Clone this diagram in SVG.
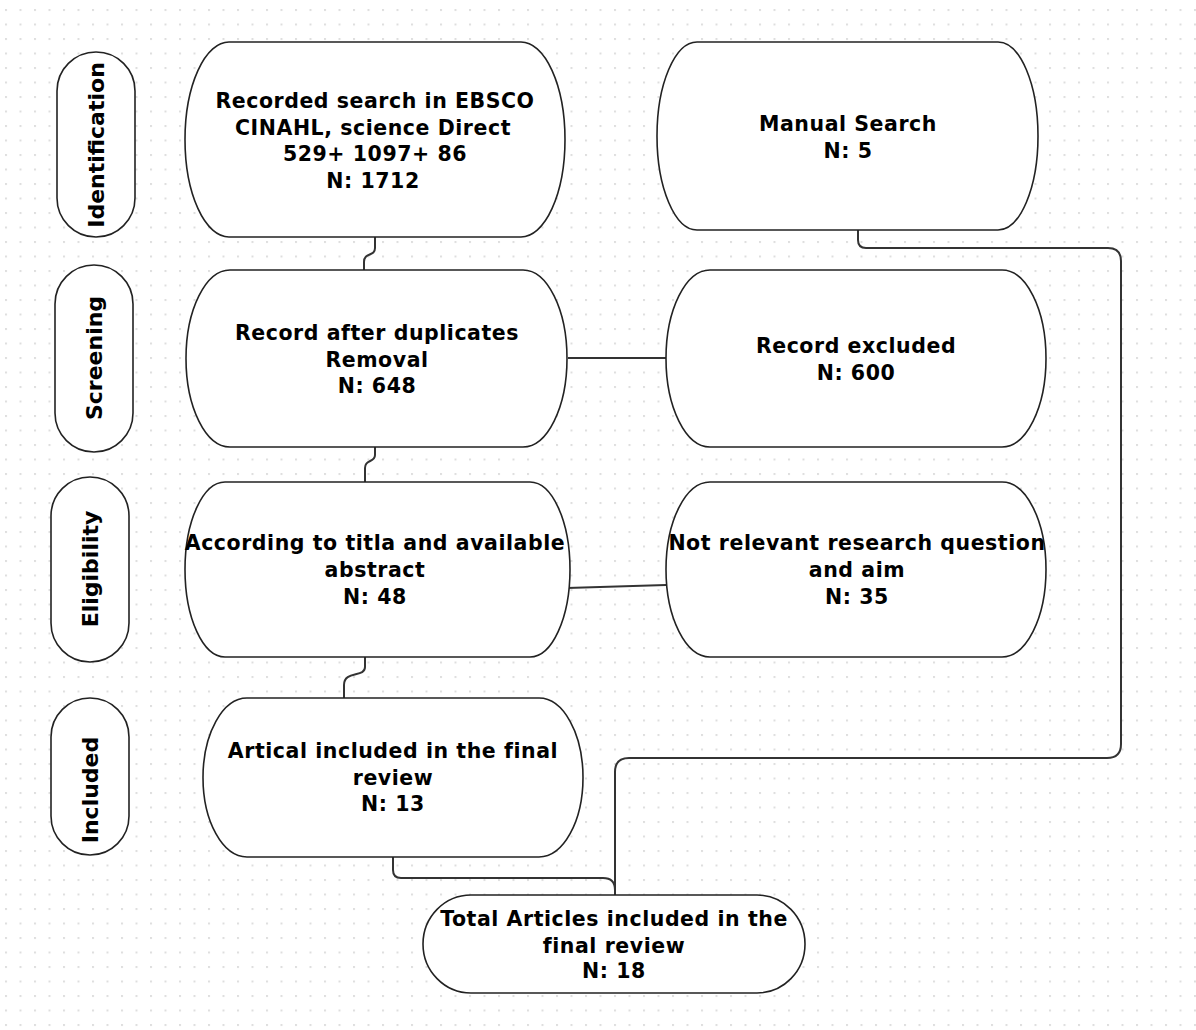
<svg xmlns="http://www.w3.org/2000/svg" width="1196" height="1030" viewBox="0 0 1196 1030">
<defs>
<pattern id="dots" x="5" y="9" width="14.5" height="14.5" patternUnits="userSpaceOnUse"><rect x="0" y="0" width="2" height="2" fill="#dedede"/></pattern>
<style>
.box{fill:#fff;stroke:#222;stroke-width:1.6}
.t{font-family:"DejaVu Sans","Liberation Sans",sans-serif;font-weight:bold;font-size:20.5px;letter-spacing:0.55px;fill:#000;text-anchor:middle}
.side{font-family:"DejaVu Sans","Liberation Sans",sans-serif;font-weight:bold;font-size:22px;fill:#000;text-anchor:middle}
.c{fill:none;stroke:#333;stroke-width:2}
</style>
</defs>
<rect width="1196" height="1030" fill="#fff"/>
<rect width="1196" height="1030" fill="url(#dots)"/>
<g id="connectors">
<path class="c" d="M375,237 L375,248 C375,257 364,252 364,262 L364,270"/>
<path class="c" d="M375,447 L375,455 C375,463 365,459 365,468 L365,482"/>
<path class="c" d="M365,657 L365,667 C365,678 344,670 344,685 L344,698"/>
<path class="c" d="M568,358 L666,358"/>
<path class="c" d="M567,588 L666,585"/>
<path class="c" d="M858,230 V240 Q858,248 866,248 H1108 Q1121,248 1121,261 V744 Q1121,758 1107,758 H629 Q615,758 615,772 V895"/>
<path class="c" d="M393,857 V870 Q393,878 401,878 H603 Q615,878 615,890 V895"/>
</g>
<g id="side-identification"><rect class="box" x="57" y="52" width="78" height="185" rx="39" ry="39"/><text class="side" transform="translate(104,145) rotate(-90)">Identification</text></g>
<g id="side-screening"><rect class="box" x="55" y="265" width="78" height="187" rx="39" ry="39"/><text class="side" transform="translate(102,358) rotate(-90)">Screening</text></g>
<g id="side-eligibility"><rect class="box" x="51" y="477" width="78" height="185" rx="39" ry="39"/><text class="side" transform="translate(98,569) rotate(-90)">Eligibility</text></g>
<g id="side-included"><rect class="box" x="51" y="698" width="78" height="157" rx="39" ry="39"/><text class="side" transform="translate(98,790) rotate(-90)">Included</text></g>
<g id="n-recorded"><rect class="box" x="185" y="42" width="380" height="195" rx="44" ry="97.5"/>
<text class="t" x="375" y="108">Recorded search in EBSCO</text>
<text class="t" x="373" y="135">CINAHL, science Direct</text>
<text class="t" x="375" y="161">529+ 1097+ 86</text>
<text class="t" x="373" y="188">N: 1712</text></g>
<g id="n-manual"><rect class="box" x="657" y="42" width="381" height="188" rx="40" ry="94"/>
<text class="t" x="848" y="131">Manual Search</text>
<text class="t" x="848" y="158">N: 5</text></g>
<g id="n-dup"><rect class="box" x="186" y="270" width="381" height="177" rx="44" ry="88.5"/>
<text class="t" x="377" y="340">Record after duplicates</text>
<text class="t" x="377" y="367">Removal</text>
<text class="t" x="377" y="393">N: 648</text></g>
<g id="n-excluded"><rect class="box" x="666" y="270" width="380" height="177" rx="44" ry="88.5"/>
<text class="t" x="856" y="353">Record excluded</text>
<text class="t" x="856" y="380">N: 600</text></g>
<g id="n-according"><rect class="box" x="185" y="482" width="385" height="175" rx="40" ry="87.5"/>
<text class="t" x="375" y="550">According to titla and available</text>
<text class="t" x="375" y="577">abstract</text>
<text class="t" x="375" y="604">N: 48</text></g>
<g id="n-notrelevant"><rect class="box" x="666" y="482" width="380" height="175" rx="44" ry="87.5"/>
<text class="t" x="857" y="550">Not relevant research question</text>
<text class="t" x="857" y="577">and aim</text>
<text class="t" x="857" y="604">N: 35</text></g>
<g id="n-artical"><rect class="box" x="203" y="698" width="380" height="159" rx="44" ry="79.5"/>
<text class="t" x="393" y="758">Artical included in the final</text>
<text class="t" x="393" y="785">review</text>
<text class="t" x="393" y="811">N: 13</text></g>
<g id="n-total"><rect class="box" x="423" y="895" width="382" height="98" rx="48" ry="49"/>
<text class="t" x="614" y="926">Total Articles included in the</text>
<text class="t" x="614" y="953">final review</text>
<text class="t" x="614" y="978">N: 18</text></g>
</svg>
